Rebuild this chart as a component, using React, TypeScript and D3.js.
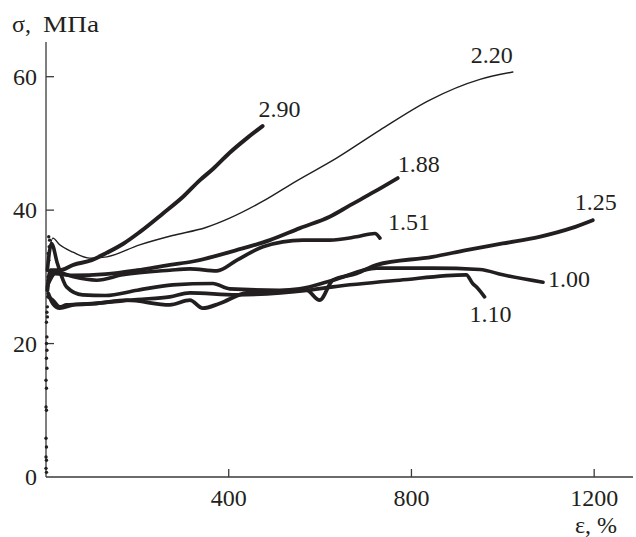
import React, { useEffect, useRef } from "react";
import * as d3 from "d3";

// strain (%) vs stress (MPa)
const curve290 = [[3, 28], [10, 31], [30, 31], [60, 31.8], [100, 32.5], [133, 33.6], [170, 35], [205, 36.7], [256, 39.5], [300, 42], [337, 44.5], [366, 46.2], [402, 48.6], [440, 50.8], [474, 52.6]];
const curve220 = [[5, 33], [15, 35.8], [30, 34.8], [59, 33.7], [96, 32.8], [133, 33], [205, 34.8], [277, 36.2], [350, 37.4], [402, 38.8], [474, 41.3], [549, 44.4], [636, 47.8], [731, 52], [840, 56.5], [950, 59.6], [1022, 60.7]];
const curve188 = [[5, 29], [20, 30.5], [60, 30.2], [130, 30.4], [200, 31], [271, 31.8], [321, 32.3], [417, 34], [490, 35.5], [556, 37.3], [621, 39], [665, 40.7], [720, 42.8], [770, 44.8]];
const curve151 = [[5, 30], [20, 30.8], [60, 30], [111, 29.5], [168, 30.3], [271, 31], [315, 31.2], [374, 30.9], [418, 32.5], [475, 34.5], [562, 35.5], [621, 35.5], [680, 36], [720, 36.5], [731, 35.8]];
const curve125 = [[5, 27.5], [15, 26], [30, 25.3], [60, 25.8], [111, 26], [177, 26.5], [271, 25.8], [315, 26.5], [343, 25.3], [380, 26], [439, 27.6], [500, 27.8], [570, 28], [599, 26.5], [628, 29.5], [680, 30.5], [724, 31.8], [846, 33], [920, 34], [1000, 35], [1080, 36], [1150, 37.3], [1197, 38.5]];
const curve100 = [[3, 31], [12, 35], [25, 32], [45, 28.5], [80, 27.3], [130, 27.2], [200, 28], [277, 28.8], [365, 29], [402, 28.2], [511, 28], [555, 28.2], [628, 29.5], [724, 31.3], [846, 31.3], [950, 31.1], [1000, 30.3], [1088, 29.2]];
const curve110 = [[5, 27], [15, 26.5], [30, 25.5], [45, 25.8], [100, 26], [200, 26.6], [271, 27], [315, 27.6], [417, 27.3], [575, 28], [628, 28.5], [774, 29.5], [920, 30.3], [934, 29], [945, 28.3], [960, 27]];

// scattered points of the initial elastic rise
const initialDots = [[1, 0.7], [0, 1.3], [1, 2.5], [0, 3], [1, 4.5], [0, 5.8], [1, 10], [0, 10.5], [1, 13.3], [0, 14.5], [2, 16.3], [1, 17.8], [2, 19], [1, 20], [2, 21], [1, 23.2], [3, 24], [2, 24.7], [3, 25.5], [4, 27], [3, 28.5], [5, 29.5], [4, 31], [6, 32.5], [5, 33.5], [7, 34.5], [8, 35.5], [6, 36]];

const curveNames = ["2.90", "2.20", "1.88", "1.51", "1.25", "1.00", "1.10"];
const curveData = [curve290, curve220, curve188, curve151, curve125, curve100, curve110];

const xTicks = [400, 800, 1200];
const yTicks = [0, 20, 40, 60];

const ink = "#231f20";
const font = "'Liberation Serif', 'Times New Roman', serif";

// label placement relative to the last point of each curve
const labelStyle = {
  "2.90": { dx: -4, dy: -9, anchor: "start", width: 4 },
  "2.20": { dx: 0, dy: -9, anchor: "end", width: 1.4 },
  "1.88": { dx: 0, dy: -6, anchor: "start", width: 3.8 },
  "1.51": { dx: 8, dy: -8, anchor: "start", width: 3.6 },
  "1.25": { dx: -18, dy: -10, anchor: "start", width: 3.8 },
  "1.00": { dx: 5, dy: 5, anchor: "start", width: 3.6 },
  "1.10": { dx: -15, dy: 25, anchor: "start", width: 3.6 },
};

const App = () => {
  const svgRef = useRef<SVGSVGElement>(null);
  const width = 636;
  const height = 537;

  useEffect(() => {
    const svg = d3.select(svgRef.current);
    svg.selectAll("*").remove();

    const xScale = d3.scaleLinear().domain([0, 1285]).range([46, 633]);
    const yScale = d3.scaleLinear().domain([0, 65.2]).range([477, 42]);

    // axes
    svg.append("line")
      .attr("x1", xScale(0)).attr("x2", xScale(0))
      .attr("y1", yScale(65.2)).attr("y2", yScale(0))
      .attr("stroke", "#3a3a3a").attr("stroke-width", 1.3);
    svg.append("line")
      .attr("x1", xScale(0)).attr("x2", xScale(1285))
      .attr("y1", yScale(0)).attr("y2", yScale(0))
      .attr("stroke", "#3a3a3a").attr("stroke-width", 1.3);

    yTicks.forEach((v) => {
      if (v > 0) {
        svg.append("line")
          .attr("x1", xScale(0)).attr("x2", xScale(0) + 8)
          .attr("y1", yScale(v)).attr("y2", yScale(v))
          .attr("stroke", "#3a3a3a").attr("stroke-width", 1.3);
      }
      svg.append("text")
        .attr("x", 37).attr("y", yScale(v) + 8)
        .attr("text-anchor", "end")
        .style("font-family", font).style("font-size", "24px")
        .style("fill", ink)
        .text(v);
    });

    xTicks.forEach((v) => {
      svg.append("line")
        .attr("x1", xScale(v)).attr("x2", xScale(v))
        .attr("y1", yScale(0)).attr("y2", yScale(0) - 8)
        .attr("stroke", "#3a3a3a").attr("stroke-width", 1.3);
      svg.append("text")
        .attr("x", xScale(v)).attr("y", 506)
        .attr("text-anchor", "middle")
        .style("font-family", font).style("font-size", "24px")
        .style("fill", ink)
        .text(v);
    });

    // axis titles
    const yTitle = svg.append("text")
      .attr("x", 12).attr("y", 32)
      .style("font-family", font).style("font-size", "24px")
      .style("fill", ink);
    yTitle.append("tspan").text("σ,");
    yTitle.append("tspan")
      .attr("x", 43)
      .attr("textLength", 56)
      .attr("lengthAdjust", "spacingAndGlyphs")
      .text("МПа");
    svg.append("text")
      .attr("x", 617).attr("y", 533)
      .attr("text-anchor", "end")
      .style("font-family", font).style("font-size", "24px")
      .style("fill", ink)
      .text("ε, %");

    // initial dotted rise
    svg.append("g")
      .selectAll("circle")
      .data(initialDots)
      .enter()
      .append("circle")
      .attr("cx", (d) => xScale(d[0]))
      .attr("cy", (d) => yScale(d[1]))
      .attr("r", 1.7)
      .attr("fill", ink);

    const line = d3.line<number[]>()
      .x((d) => xScale(d[0]))
      .y((d) => yScale(d[1]))
      .curve(d3.curveMonotoneX);

    curveData.forEach((data, i) => {
      const name = curveNames[i];
      const st = labelStyle[name];
      svg.append("path")
        .datum(data)
        .attr("d", line)
        .attr("fill", "none")
        .attr("stroke", ink)
        .attr("stroke-width", st.width)
        .attr("stroke-linejoin", "round")
        .attr("stroke-linecap", "round");

      const last = data[data.length - 1];
      svg.append("text")
        .attr("x", xScale(last[0]) + st.dx)
        .attr("y", yScale(last[1]) + st.dy)
        .attr("text-anchor", st.anchor)
        .style("font-family", font).style("font-size", "24px")
        .style("fill", ink)
        .text(name);
    });
  }, []);

  return (
    <svg
      ref={svgRef}
      width={width}
      height={height}
      style={{ position: "absolute", left: 0, top: 0, background: "#fff" }}
    />
  );
};

export default App;
